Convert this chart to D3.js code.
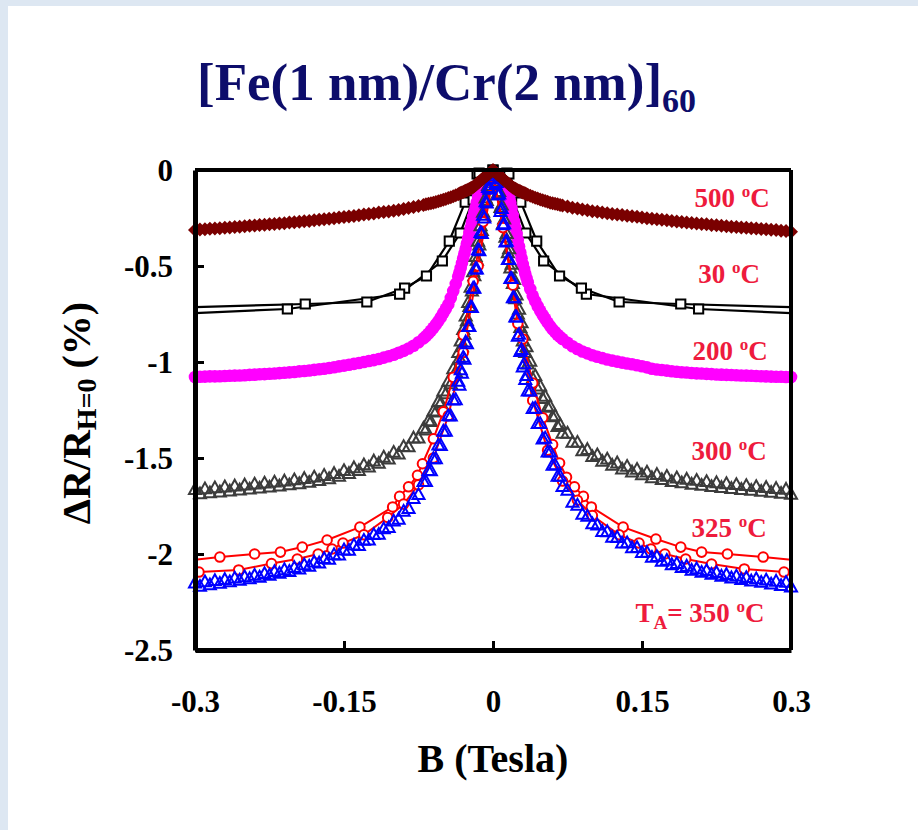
<!DOCTYPE html>
<html><head><meta charset="utf-8">
<script src="https://cdn.jsdelivr.net/npm/d3@7/dist/d3.min.js"></script>
<style>body{margin:0;background:#fff}svg{display:block}</style>
</head><body><svg id="c" width="918" height="830"></svg>
<script>
// ---- field grids (Tesla): sweep 1 and sweep 2 ----
const B = [-0.30,-0.29,-0.28,-0.27,-0.26,-0.25,-0.24,-0.23,-0.22,-0.21,-0.20,-0.19,-0.18,-0.17,-0.16,-0.15,-0.14,-0.13,-0.12,-0.11,-0.10,-0.09,-0.08,-0.07,-0.065,-0.06,-0.055,-0.05,-0.045,-0.04,-0.035,-0.0325,-0.03,-0.0275,-0.025,-0.0225,-0.02,-0.0175,-0.015,-0.0125,-0.01,-0.0075,-0.005,-0.0025,
 0,
 0.0025,0.005,0.0075,0.01,0.0125,0.015,0.0175,0.02,0.0225,0.025,0.0275,0.03,0.0325,0.035,0.04,0.045,0.05,0.055,0.06,0.065,0.07,0.08,0.09,0.10,0.11,0.12,0.13,0.14,0.15,0.16,0.17,0.18,0.19,0.20,0.21,0.22,0.23,0.24,0.25,0.26,0.27,0.28,0.29,0.30];
const B2 = [-0.295,-0.285,-0.275,-0.265,-0.255,-0.245,-0.235,-0.225,-0.215,-0.205,-0.195,-0.185,-0.175,-0.165,-0.155,-0.145,-0.135,-0.125,-0.115,-0.105,-0.095,-0.085,-0.075,-0.0675,-0.0625,-0.0575,-0.0525,-0.0475,-0.0425,-0.0375,-0.03375,-0.03125,-0.02875,-0.02625,-0.02375,-0.02125,-0.01875,-0.01625,-0.01375,-0.01125,-0.00875,-0.00625,-0.00375,-0.00125,
 0.00125,0.00375,0.00625,0.00875,0.01125,0.01375,0.01625,0.01875,0.02125,0.02375,0.02625,0.02875,0.03125,0.03375,0.0375,0.0425,0.0475,0.0525,0.0575,0.0625,0.0675,0.075,0.085,0.095,0.105,0.115,0.125,0.135,0.145,0.155,0.165,0.175,0.185,0.195,0.205,0.215,0.225,0.235,0.245,0.255,0.265,0.275,0.285,0.295];

// 500 oC (filled diamonds)
const mr500a = [-0.312,-0.308,-0.305,-0.301,-0.297,-0.293,-0.289,-0.285,-0.281,-0.277,-0.272,-0.267,-0.262,-0.256,-0.251,-0.245,-0.239,-0.232,-0.226,-0.219,-0.212,-0.203,-0.193,-0.182,-0.176,-0.170,-0.163,-0.155,-0.146,-0.137,-0.126,-0.120,-0.114,-0.108,-0.102,-0.095,-0.088,-0.078,-0.066,-0.055,-0.044,-0.034,-0.024,-0.012,
 0,
 -0.012,-0.025,-0.035,-0.046,-0.058,-0.069,-0.081,-0.091,-0.098,-0.105,-0.111,-0.117,-0.123,-0.129,-0.139,-0.149,-0.158,-0.166,-0.173,-0.179,-0.185,-0.196,-0.206,-0.215,-0.222,-0.229,-0.235,-0.241,-0.248,-0.254,-0.259,-0.265,-0.271,-0.276,-0.281,-0.286,-0.291,-0.295,-0.299,-0.303,-0.307,-0.311,-0.316,-0.321];
const mr500b = [-0.310,-0.306,-0.303,-0.299,-0.295,-0.291,-0.287,-0.283,-0.279,-0.274,-0.270,-0.265,-0.259,-0.254,-0.248,-0.242,-0.236,-0.229,-0.222,-0.216,-0.208,-0.198,-0.188,-0.179,-0.173,-0.167,-0.159,-0.151,-0.142,-0.132,-0.123,-0.117,-0.111,-0.105,-0.099,-0.092,-0.083,-0.072,-0.061,-0.050,-0.039,-0.029,-0.018,-0.006,
 -0.006,-0.019,-0.030,-0.041,-0.052,-0.064,-0.075,-0.086,-0.095,-0.102,-0.108,-0.114,-0.120,-0.126,-0.134,-0.144,-0.154,-0.162,-0.170,-0.176,-0.182,-0.190,-0.201,-0.210,-0.218,-0.225,-0.232,-0.238,-0.244,-0.251,-0.256,-0.262,-0.268,-0.273,-0.278,-0.283,-0.288,-0.293,-0.297,-0.301,-0.305,-0.309,-0.313,-0.318];

// 200 oC (filled circles)
const mr200a = [-1.078,-1.076,-1.075,-1.073,-1.071,-1.069,-1.066,-1.063,-1.060,-1.056,-1.052,-1.047,-1.041,-1.035,-1.027,-1.019,-1.010,-1.000,-0.990,-0.977,-0.962,-0.942,-0.915,-0.877,-0.852,-0.822,-0.787,-0.745,-0.70,-0.63,-0.555,-0.51,-0.46,-0.41,-0.355,-0.30,-0.245,-0.195,-0.14,-0.10,-0.07,-0.048,-0.033,-0.02,
 -0.01,
 -0.02,-0.03,-0.045,-0.065,-0.09,-0.125,-0.17,-0.235,-0.30,-0.365,-0.43,-0.49,-0.54,-0.585,-0.655,-0.71,-0.755,-0.795,-0.83,-0.858,-0.88,-0.918,-0.945,-0.965,-0.98,-0.993,-1.003,-1.012,-1.022,-1.035,-1.042,-1.048,-1.053,-1.057,-1.06,-1.063,-1.066,-1.068,-1.07,-1.072,-1.074,-1.076,-1.077,-1.078];
const mr200b = [-1.077,-1.075,-1.074,-1.072,-1.070,-1.067,-1.064,-1.061,-1.058,-1.054,-1.049,-1.044,-1.038,-1.031,-1.023,-1.014,-1.005,-0.995,-0.984,-0.970,-0.952,-0.930,-0.897,-0.865,-0.837,-0.805,-0.767,-0.723,-0.667,-0.593,-0.533,-0.485,-0.435,-0.383,-0.328,-0.272,-0.220,-0.168,-0.120,-0.085,-0.058,-0.040,-0.026,-0.014,
 -0.014,-0.025,-0.037,-0.055,-0.077,-0.107,-0.147,-0.200,-0.268,-0.333,-0.398,-0.460,-0.515,-0.563,-0.620,-0.683,-0.733,-0.775,-0.813,-0.844,-0.869,-0.900,-0.932,-0.955,-0.973,-0.987,-0.998,-1.008,-1.017,-1.028,-1.039,-1.045,-1.051,-1.055,-1.059,-1.062,-1.065,-1.067,-1.069,-1.071,-1.073,-1.075,-1.077,-1.078];

// 300 oC (open triangles), two sweeps
const mr300a = [-1.663,-1.660,-1.655,-1.650,-1.645,-1.640,-1.635,-1.630,-1.625,-1.619,-1.613,-1.606,-1.599,-1.590,-1.580,-1.565,-1.550,-1.535,-1.515,-1.495,-1.470,-1.440,-1.395,-1.345,-1.305,-1.255,-1.205,-1.150,-1.100,-1.035,-0.950,-0.890,-0.830,-0.760,-0.690,-0.610,-0.530,-0.450,-0.370,-0.290,-0.220,-0.145,-0.080,-0.035,
 -0.01,
 -0.065,-0.12,-0.195,-0.28,-0.35,-0.43,-0.51,-0.59,-0.67,-0.75,-0.82,-0.89,-0.95,-1.01,-1.085,-1.14,-1.19,-1.235,-1.285,-1.335,-1.37,-1.418,-1.462,-1.492,-1.517,-1.537,-1.557,-1.572,-1.587,-1.602,-1.612,-1.622,-1.629,-1.636,-1.642,-1.648,-1.653,-1.658,-1.663,-1.668,-1.673,-1.678,-1.683,-1.688];
const mr300b = [-1.686,-1.681,-1.676,-1.671,-1.666,-1.661,-1.656,-1.651,-1.645,-1.639,-1.633,-1.626,-1.617,-1.607,-1.595,-1.580,-1.565,-1.547,-1.527,-1.505,-1.478,-1.441,-1.395,-1.353,-1.310,-1.260,-1.213,-1.165,-1.113,-1.050,-0.980,-0.920,-0.855,-0.785,-0.710,-0.630,-0.550,-0.470,-0.390,-0.315,-0.240,-0.158,-0.092,-0.038,
 -0.022,-0.057,-0.112,-0.182,-0.255,-0.330,-0.410,-0.490,-0.570,-0.650,-0.725,-0.795,-0.860,-0.920,-0.995,-1.070,-1.125,-1.178,-1.230,-1.280,-1.325,-1.370,-1.418,-1.455,-1.483,-1.505,-1.525,-1.543,-1.558,-1.573,-1.585,-1.595,-1.603,-1.610,-1.616,-1.622,-1.628,-1.633,-1.638,-1.643,-1.648,-1.653,-1.658,-1.662];

// 350 oC (open triangles), two sweeps
const mr350a = [-2.150,-2.144,-2.138,-2.132,-2.125,-2.118,-2.110,-2.101,-2.091,-2.081,-2.070,-2.056,-2.041,-2.023,-2.003,-1.978,-1.953,-1.928,-1.898,-1.868,-1.828,-1.777,-1.710,-1.622,-1.565,-1.503,-1.432,-1.360,-1.280,-1.198,-1.100,-1.040,-0.975,-0.895,-0.815,-0.715,-0.615,-0.515,-0.415,-0.325,-0.235,-0.165,-0.09,-0.045,
 -0.02,
 -0.075,-0.13,-0.215,-0.285,-0.375,-0.465,-0.565,-0.665,-0.765,-0.865,-0.945,-1.025,-1.09,-1.15,-1.242,-1.32,-1.40,-1.468,-1.537,-1.595,-1.648,-1.73,-1.793,-1.842,-1.882,-1.912,-1.942,-1.967,-1.992,-2.017,-2.037,-2.055,-2.070,-2.084,-2.095,-2.105,-2.115,-2.124,-2.132,-2.140,-2.147,-2.156,-2.164,-2.172];
const mr350b = [-2.168,-2.160,-2.152,-2.144,-2.136,-2.128,-2.120,-2.110,-2.100,-2.090,-2.077,-2.063,-2.046,-2.027,-2.005,-1.980,-1.955,-1.927,-1.897,-1.862,-1.818,-1.762,-1.690,-1.622,-1.566,-1.503,-1.434,-1.360,-1.281,-1.196,-1.120,-1.058,-0.985,-0.905,-0.815,-0.715,-0.615,-0.515,-0.420,-0.330,-0.250,-0.172,-0.100,-0.045,
 -0.030,-0.065,-0.125,-0.200,-0.280,-0.370,-0.465,-0.565,-0.665,-0.765,-0.855,-0.935,-1.008,-1.070,-1.150,-1.240,-1.320,-1.396,-1.468,-1.535,-1.594,-1.667,-1.745,-1.803,-1.848,-1.883,-1.913,-1.941,-1.966,-1.991,-2.013,-2.032,-2.049,-2.063,-2.076,-2.086,-2.096,-2.106,-2.114,-2.122,-2.129,-2.135,-2.141,-2.147];

// 325 oC (open circles + line), two curves
const b325u  = [-0.3,-0.275,-0.24,-0.214,-0.192,-0.167,-0.134,-0.101,-0.094,-0.085,-0.076,-0.071,-0.06,-0.05,-0.04,-0.03,-0.02,-0.01,0,0.01,0.02,0.03,0.04,0.05,0.06,0.067,0.074,0.082,0.091,0.099,0.131,0.164,0.189,0.21,0.236,0.272,0.3];
const mr325u = [-2.03,-2.016,-2.0,-1.99,-1.964,-1.927,-1.86,-1.755,-1.70,-1.65,-1.59,-1.53,-1.40,-1.26,-1.08,-0.86,-0.58,-0.27,-0.02,-0.29,-0.60,-0.88,-1.11,-1.29,-1.43,-1.526,-1.60,-1.65,-1.70,-1.755,-1.86,-1.922,-1.964,-1.99,-2.0,-2.016,-2.03];
const b325l  = [-0.296,-0.256,-0.223,-0.197,-0.176,-0.162,-0.151,-0.13,-0.106,-0.09,-0.075,-0.06,-0.045,-0.03,-0.015,0,0.01,0.025,0.04,0.055,0.07,0.085,0.10,0.127,0.147,0.159,0.173,0.194,0.22,0.253,0.293];
const mr325l = [-2.094,-2.083,-2.05,-2.026,-2.0,-1.974,-1.943,-1.90,-1.81,-1.74,-1.64,-1.50,-1.28,-0.95,-0.50,-0.03,-0.30,-0.80,-1.20,-1.46,-1.62,-1.72,-1.80,-1.90,-1.943,-1.974,-2.0,-2.026,-2.052,-2.078,-2.094];

// 30 oC (open squares + line), two sweeps
const b30a  = [-0.3,-0.189,-0.127,-0.089,-0.067,-0.044,-0.028,-0.016,0,0.014,0.020,0.033,0.051,0.094,0.207,0.3];
const mr30a = [-0.714,-0.698,-0.6875,-0.615,-0.552,-0.37,-0.167,-0.02,0,-0.016,-0.156,-0.328,-0.474,-0.646,-0.724,-0.745];
const b30b  = [-0.3,-0.207,-0.094,-0.051,-0.033,-0.020,-0.014,0,0.016,0.028,0.044,0.067,0.089,0.127,0.189,0.3];
const mr30b = [-0.745,-0.724,-0.646,-0.474,-0.328,-0.156,-0.016,0,-0.02,-0.167,-0.37,-0.552,-0.615,-0.6875,-0.698,-0.714];

// ticks and labels
const xTicks = [-0.3,-0.15,0,0.15,0.3];
const xTickLabels = ["-0.3","-0.15","0","0.15","0.3"];
const yTicks = [0,-0.5,-1,-1.5,-2,-2.5];
const yTickLabels = ["0","-0.5","-1","-1.5","-2","-2.5"];
const seriesLabels = ["500","30","200","300","325","350"];

// ---- drawing ----
const svg = d3.select("#c");
const serif = "'Liberation Serif','Times New Roman',Times,serif";
svg.append("rect").attr("width",918).attr("height",830).attr("fill","#dde7f2");
svg.append("rect").attr("x",8).attr("y",6).attr("width",910).attr("height",824).attr("fill","#ffffff");

const x = d3.scaleLinear().domain([-0.3,0.3]).range([195,791]);
const y = d3.scaleLinear().domain([-2.5,0]).range([650,170]);
const zip = (bs,vs) => bs.map((b,i)=>({b:b,v:vs[i]}));
const line = d3.line().x(d=>x(d.b)).y(d=>y(d.v));

const DIAMOND = "M0,-7L7,0L0,7L-7,0Z";
const TRI = "M0,-6.2L6,4.6L-6,4.6Z";
const SQ = "M-4.6,-4.6H4.6V4.6H-4.6Z";

const plot = svg.append("g");
function markers(data, path, fill, stroke, sw){
  plot.append("g").selectAll("path").data(data).join("path")
    .attr("d",path).attr("transform",d=>`translate(${x(d.b)},${y(d.v)})`)
    .attr("fill",fill).attr("stroke",stroke).attr("stroke-width",sw).attr("stroke-linejoin","miter");
}
function dots(data, r, fill, stroke, sw){
  plot.append("g").selectAll("circle").data(data).join("circle")
    .attr("cx",d=>x(d.b)).attr("cy",d=>y(d.v)).attr("r",r)
    .attr("fill",fill).attr("stroke",stroke).attr("stroke-width",sw);
}
function curve(data, color, w){
  plot.append("path").datum(data).attr("d",line).attr("fill","none").attr("stroke",color).attr("stroke-width",w);
}

// 30 oC
const s30a = zip(b30a,mr30a), s30b = zip(b30b,mr30b);
curve(s30a,"#000",2.2); curve(s30b,"#000",2.2);
markers(s30a.filter(d=>Math.abs(d.b)<0.29),SQ,"#fff","#000",2);
markers(s30b.filter(d=>Math.abs(d.b)<0.29),SQ,"#fff","#000",2);
// 200 oC
dots(zip(B,mr200a),6.3,"#ff00ff","none",0);
dots(zip(B2,mr200b),6.3,"#ff00ff","none",0);
// 300 oC
markers(zip(B,mr300a),TRI,"none","#3c3c3c",2);
markers(zip(B2,mr300b),TRI,"none","#3c3c3c",2);
// 325 oC
const s325u = zip(b325u,mr325u), s325l = zip(b325l,mr325l);
curve(s325u,"#ff0000",2); curve(s325l,"#ff0000",2);
dots(s325u.filter(d=>Math.abs(d.b)<0.29).concat(s325l),4.8,"#fff","#ff0000",2);
// 350 oC
markers(zip(B,mr350a),TRI,"none","#0000ff",2);
markers(zip(B2,mr350b),TRI,"none","#0000ff",2);
// 500 oC
markers(zip(B,mr500a),DIAMOND,"#7a0000","none",0);
markers(zip(B2,mr500b),DIAMOND,"#7a0000","none",0);

// frame top/right
svg.append("line").attr("x1",195).attr("x2",791).attr("y1",170).attr("y2",170).attr("stroke","#000").attr("stroke-width",4);
svg.append("line").attr("x1",791).attr("x2",791).attr("y1",170).attr("y2",650).attr("stroke","#000").attr("stroke-width",4);

// axes
const ya = svg.append("g").attr("transform","translate(195,0)")
  .call(d3.axisLeft(y).tickValues(yTicks).tickFormat((d,i)=>yTickLabels[i]).tickSizeInner(-9).tickSizeOuter(0).tickPadding(22));
const xa = svg.append("g").attr("transform","translate(0,650)")
  .call(d3.axisBottom(x).tickValues(xTicks).tickFormat((d,i)=>xTickLabels[i]).tickSizeInner(-9).tickSizeOuter(0).tickPadding(40));
[ya,xa].forEach(a=>{
  a.attr("font-family",serif).attr("font-size",31).attr("font-weight","bold");
  a.select(".domain").attr("stroke","#000").attr("stroke-width",5);
  a.selectAll(".tick line").attr("stroke","#000").attr("stroke-width",3);
  a.selectAll(".tick text").attr("fill","#000");
});
ya.selectAll(".tick text").attr("dy","0.34em");

// title
const t = svg.append("text").attr("x",197).attr("y",100).attr("font-family",serif)
  .attr("font-weight","bold").attr("font-size",53).attr("fill","#0d0d6b");
t.append("tspan").text("[Fe(1 nm)/Cr(2 nm)]");
t.append("tspan").attr("font-size",34).attr("dy",12).text("60");

// axis titles
svg.append("text").attr("x",493).attr("y",772).attr("text-anchor","middle").attr("font-family",serif)
  .attr("font-weight","bold").attr("font-size",40).attr("fill","#000").text("B (Tesla)");
const yl = svg.append("text").attr("transform","translate(90,413) rotate(-90)").attr("text-anchor","middle")
  .attr("font-family",serif).attr("font-weight","bold").attr("font-size",40).attr("fill","#000");
yl.append("tspan").text("\u0394R/R");
yl.append("tspan").attr("font-size",28).attr("dy",6).text("H=0");
yl.append("tspan").attr("dy",-6).text(" (%)");

// series labels
const labPos = [[732,207],[729,283],[730,360],[729,460],[729,537],[700,622]];
seriesLabels.forEach((s,i)=>{
  const tx = svg.append("text").attr("x",labPos[i][0]).attr("y",labPos[i][1]).attr("text-anchor","middle")
    .attr("font-family",serif).attr("font-weight","bold").attr("font-size",27).attr("fill","#ee1b3d");
  if(i===5){
    tx.append("tspan").text("T");
    tx.append("tspan").attr("font-size",19).attr("dy",7).text("A");
    tx.append("tspan").attr("dy",-7).text("= " + s + " ");
  } else {
    tx.append("tspan").text(s + " ");
  }
  tx.append("tspan").attr("font-size",17).attr("dy",-10).text("o");
  tx.append("tspan").attr("dy",10).text("C");
});
</script></body></html>
